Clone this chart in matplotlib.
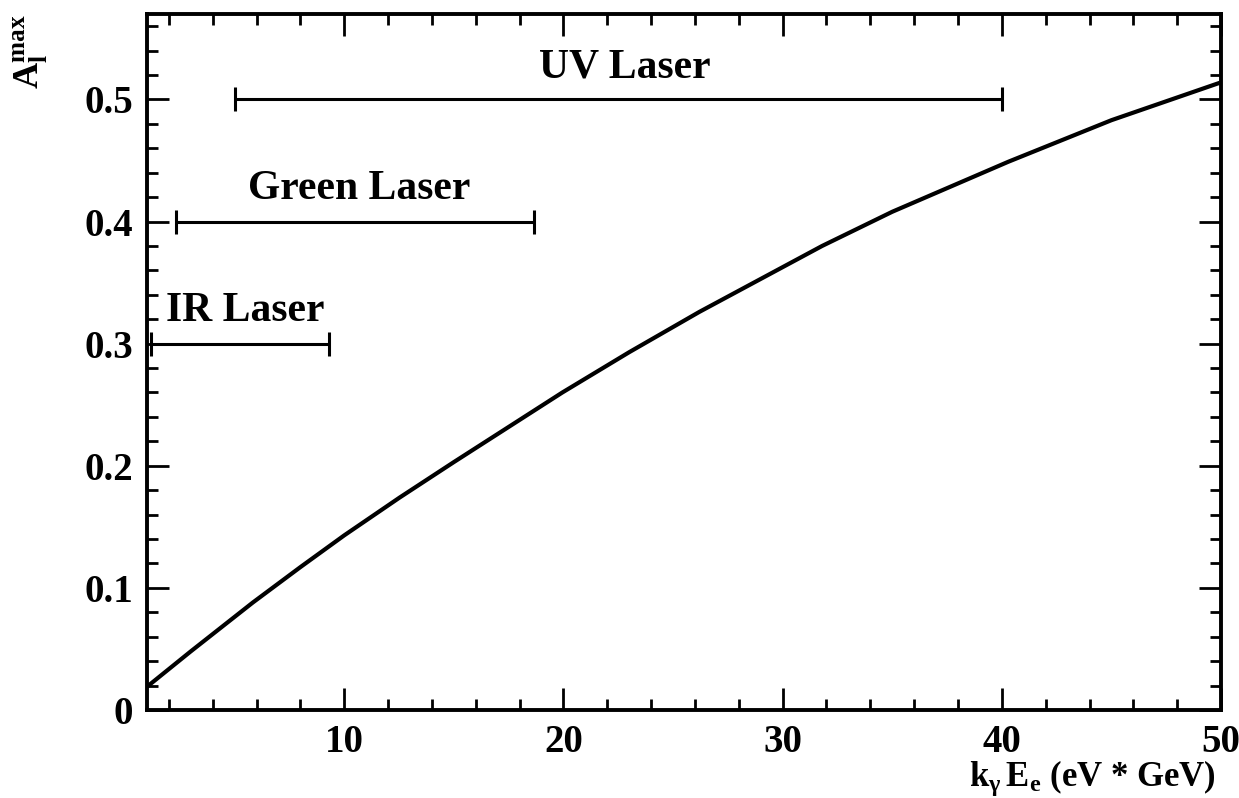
import matplotlib
matplotlib.use('Agg')
import matplotlib.pyplot as plt
from matplotlib.ticker import MultipleLocator, FixedLocator

plt.rcParams['font.family'] = ['Liberation Serif', 'DejaVu Serif']
plt.rcParams['font.weight'] = 'bold'
plt.rcParams['mathtext.fontset'] = 'custom'
plt.rcParams['mathtext.rm'] = 'Liberation Serif:bold'
plt.rcParams['mathtext.it'] = 'Liberation Serif:bold'
plt.rcParams['mathtext.bf'] = 'Liberation Serif:bold'

# ---- data ----
kE = [1.0, 3.0, 5.83, 8.0, 10.0, 12.53, 15.0, 19.95, 23.0, 26.2,
      31.8, 35.0, 40.3, 45.0, 50.0]
A_max = [0.019, 0.048, 0.088, 0.117, 0.143, 0.174, 0.203, 0.260, 0.293, 0.326,
         0.380, 0.408, 0.449, 0.483, 0.514]

laser_names = ['IR Laser', 'Green Laser', 'UV Laser']
laser_lo = [1.165, 2.33, 5.0]
laser_hi = [9.32, 18.64, 40.0]
laser_level = [0.3, 0.4, 0.5]

x_ticks = [10, 20, 30, 40, 50]
y_ticks = [0, 0.1, 0.2, 0.3, 0.4, 0.5]
y_ticklabels = ['0', '0.1', '0.2', '0.3', '0.4', '0.5']

# ---- figure ----
fig = plt.figure(figsize=(12.39, 7.98), dpi=100)
ax = fig.add_axes([0.1186, 0.1103, 0.8669, 0.8722])

ax.plot(kE, A_max, color='black', lw=3.0, solid_capstyle='butt',
        solid_joinstyle='round')

label_offsets = [(0.25, 0.027), (0.2, 0.027), (0.3, 0.026)]
for name, lo, hi, lev, off in zip(laser_names, laser_lo, laser_hi, laser_level, label_offsets):
    mid = 0.5 * (lo + hi)
    ax.errorbar([mid], [lev], xerr=[[mid - lo], [hi - mid]], fmt='none',
                ecolor='black', elinewidth=2.2, capsize=8.3, capthick=2.2)
    ax.text(mid + off[0], lev + off[1], name, ha='center', va='center',
            fontsize=30, fontweight='bold')

ax.set_xlim(1, 50)
ax.set_ylim(0, 0.57)
ax.xaxis.set_major_locator(FixedLocator(x_ticks))
ax.xaxis.set_minor_locator(MultipleLocator(2))
ax.set_yticks(y_ticks)
ax.set_yticklabels(y_ticklabels)
ax.yaxis.set_minor_locator(MultipleLocator(0.02))

for s in ax.spines.values():
    s.set_linewidth(2.8)
ax.tick_params(which='both', direction='in', top=True, right=True, width=2.0)
ax.tick_params(which='major', length=16, labelsize=28)
ax.tick_params(axis='y', which='major', pad=10)
ax.tick_params(axis='x', which='major', pad=10)
ax.tick_params(which='minor', length=8)
for lab in ax.get_xticklabels() + ax.get_yticklabels():
    lab.set_fontweight('bold')

ax.set_xlabel(r'$\mathrm{k_{\gamma}\,E_{e}}$ (eV * GeV)', fontsize=25,
              fontweight='bold', loc='right')
ax.set_ylabel(r'$\mathrm{A_{l}^{max}}$', fontsize=26, fontweight='bold', loc='top')
ax.xaxis.set_label_coords(0.995, -0.069)
ax.yaxis.set_label_coords(-0.09, 1.0)

fig.savefig('out.png', dpi=100)
